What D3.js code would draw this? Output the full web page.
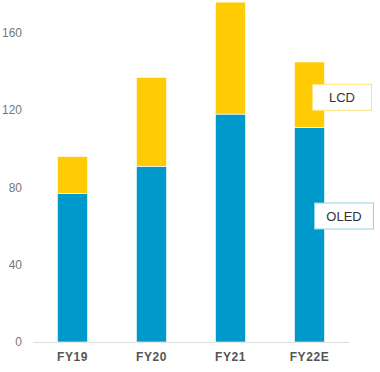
<!DOCTYPE html>
<html>
<head>
<meta charset="utf-8">
<script src="https://cdn.jsdelivr.net/npm/d3@7"></script>
<style>
  body { margin: 0; background: #fff; }
  svg { display: block; font-family: "Liberation Sans", Arial, sans-serif; }
</style>
</head>
<body>
<div id="chart"></div>
<script>
const years = ['FY19', 'FY20', 'FY21', 'FY22E'];
const oled = [77, 91, 118, 111];
const lcd = [19, 46, 58, 34];
const yTicks = [0, 40, 80, 120, 160];

const W = 380, H = 372;
const colors = { OLED: '#0099cc', LCD: '#ffcb05' };

const svg = d3.select('#chart').append('svg')
  .attr('width', W)
  .attr('height', H);

const x = d3.scaleBand()
  .domain(years)
  .range([33, 349])
  .paddingInner(0.62)
  .paddingOuter(0.31);

const y = d3.scaleLinear()
  .domain([0, 160])
  .range([342, 33]);

const rows = years.map((yr, i) => ({ year: yr, OLED: oled[i], LCD: lcd[i] }));
const stacked = d3.stack().keys(['OLED', 'LCD'])(rows);

// y tick labels (no axis line)
svg.append('g')
  .selectAll('text')
  .data(yTicks)
  .join('text')
  .attr('x', 22)
  .attr('y', d => y(d))
  .attr('dy', '0.35em')
  .attr('text-anchor', 'end')
  .attr('fill', '#777')
  .style('font-size', '12px')
  .text(d => d);

// baseline
svg.append('line')
  .attr('x1', 33).attr('x2', 349)
  .attr('y1', y(0) + 0.5).attr('y2', y(0) + 0.5)
  .attr('stroke', '#ddd')
  .attr('stroke-width', 1);

// stacked bars
svg.append('g')
  .selectAll('g')
  .data(stacked)
  .join('g')
  .attr('fill', d => colors[d.key])
  .selectAll('rect')
  .data(d => d)
  .join('rect')
  .attr('x', d => x(d.data.year))
  .attr('y', d => y(d[1]))
  .attr('width', x.bandwidth())
  .attr('height', d => y(d[0]) - y(d[1]))
  .attr('stroke', '#fff')
  .attr('stroke-width', 0.6);

// x labels
svg.append('g')
  .selectAll('text')
  .data(years)
  .join('text')
  .attr('x', d => x(d) + x.bandwidth() / 2)
  .attr('y', 361)
  .attr('text-anchor', 'middle')
  .attr('fill', '#555')
  .style('font-size', '12px')
  .style('font-weight', 'bold')
  .style('letter-spacing', '0.6px')
  .text(d => d);

// series labels next to last bar
const last = rows.length - 1;
const labels = [
  { key: 'LCD', x: 312, cy: y(oled[last] + lcd[last] * 0.5) + 2, w: 60, border: '#ffe27a' },
  { key: 'OLED', x: 314, cy: y(oled[last] * 0.59), w: 60, border: '#8fd3ea' }
];

const lab = svg.append('g')
  .selectAll('g')
  .data(labels)
  .join('g')
  .attr('transform', d => `translate(${d.x},${d.cy - 13})`);

lab.append('rect')
  .attr('x', 0.5).attr('y', 0.5)
  .attr('width', d => d.w - 1)
  .attr('height', 26)
  .attr('fill', '#fff')
  .attr('stroke', d => d.border)
  .attr('stroke-width', 1);

lab.append('text')
  .attr('x', d => d.w / 2)
  .attr('y', 13.5)
  .attr('dy', '0.35em')
  .attr('text-anchor', 'middle')
  .attr('fill', '#333')
  .style('font-size', '13px')
  .text(d => d.key);
</script>
</body>
</html>
